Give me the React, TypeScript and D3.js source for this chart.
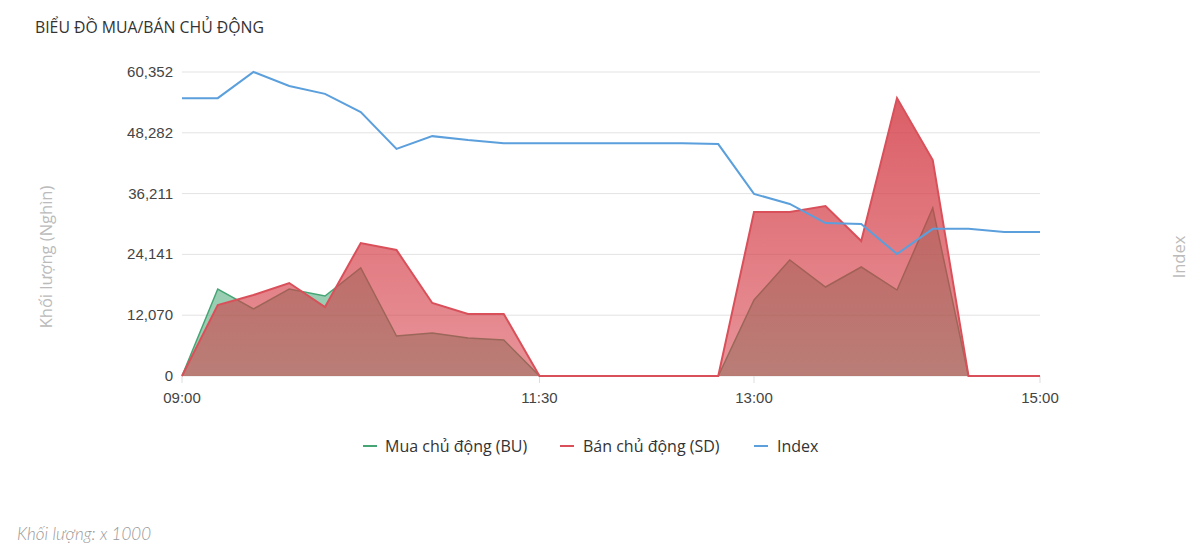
import React from "react";
import * as d3 from "d3";

const times = [
  "09:00", "09:15", "09:30", "09:45", "10:00", "10:15", "10:30", "10:45", "11:00", "11:15",
  "11:30", "11:45", "12:00", "12:15", "12:30", "12:45", "13:00", "13:15", "13:30", "13:45",
  "14:00", "14:15", "14:30", "14:45", "15:00",
];
const buValues = [
  0, 17270, 13300, 17270, 15880, 21440, 7940, 8540, 7540, 7150,
  0, 0, 0, 0, 0, 0, 15090, 23030, 17670, 21640,
  17070, 33350, 0, 0, 0,
];
const sdValues = [
  0, 14090, 16080, 18460, 13700, 26400, 25010, 14490, 12310, 12310,
  0, 0, 0, 0, 0, 0, 32550, 32550, 33750, 26800,
  55180, 42880, 0, 0, 0,
];
const indexValues = [
  1291.4, 1291.4, 1300.0, 1295.4, 1292.8, 1286.8, 1274.7, 1278.9, 1277.6, 1276.6,
  1276.6, 1276.6, 1276.6, 1276.6, 1276.6, 1276.3, 1259.9, 1256.6, 1250.3, 1250.0,
  1240.1, 1248.4, 1248.4, 1247.4, 1247.4,
];
const xTickLabels = ["09:00", "11:30", "13:00", "15:00"];
const yMax = 60352;
const yTickCount = 5;
const indexDomain = [1200, 1300];

const seriesNames = ["Mua chủ động (BU)", "Bán chủ động (SD)", "Index"];
const title = "BIỂU ĐỒ MUA/BÁN CHỦ ĐỘNG";
const yAxisTitle = "Khối lượng (Nghìn)";
const rightAxisTitle = "Index";
const footNote = "Khối lượng: x 1000";

const toMin = (t: string) => {
  const [h, m] = t.split(":").map(Number);
  return h * 60 + m;
};

export default function App() {
  const W = 1200, H = 551;
  const left = 182, right = 1040, top = 72, bottom = 376;
  const axisTitleY = 257;

  const x = d3.scaleLinear().domain([toMin("09:00"), toMin("15:00")]).range([left, right]);
  const y = d3.scaleLinear().domain([0, yMax]).range([bottom, top]);
  const yi = d3.scaleLinear().domain(indexDomain).range([bottom, top]);

  const yTicks = d3.range(yTickCount + 1).map((i) => (yMax * i) / yTickCount);
  const fmt = d3.format(",.0f");

  const pts = times.map((t, i) => ({ t: toMin(t), bu: buValues[i], sd: sdValues[i], idx: indexValues[i] }));

  const areaBU = d3.area<any>().x((d) => x(d.t)).y0(y(0)).y1((d) => y(d.bu));
  const lineBU = d3.line<any>().x((d) => x(d.t)).y((d) => y(d.bu));
  const areaSD = d3.area<any>().x((d) => x(d.t)).y0(y(0)).y1((d) => y(d.sd));
  const lineSD = d3.line<any>().x((d) => x(d.t)).y((d) => y(d.sd));
  const lineIdx = d3.line<any>().x((d) => x(d.t)).y((d) => yi(d.idx));

  const green = "#46a574";
  const red = "#d9505a";
  const blue = "#5b9fdc";

  const legendItems = [
    { name: seriesNames[0], color: green, mx: 363, tx: 385 },
    { name: seriesNames[1], color: red, mx: 560, tx: 583 },
    { name: seriesNames[2], color: blue, mx: 754, tx: 777 },
  ];

  return (
    <svg
      width={W}
      height={H}
      style={{ position: "absolute", left: 0, top: 0, background: "#fff" }}
      fontFamily="'Open Sans', 'Noto Sans', sans-serif"
    >
      <defs>
        <linearGradient id="sdGrad" gradientUnits="userSpaceOnUse" x1="0" y1={top} x2="0" y2={bottom}>
          <stop offset="0" stopColor="#d43c46" stopOpacity={0.85} />
          <stop offset="1" stopColor="#d43c46" stopOpacity={0.55} />
        </linearGradient>
      </defs>

      <text x={35} y={33} fontSize={15.8} fill="#333">{title}</text>

      {yTicks.map((v, i) => (
        <g key={i}>
          <line x1={left} x2={right} y1={y(v)} y2={y(v)} stroke="#e3e3e3" strokeWidth={1} />
          <text x={173} y={y(v) + 5} textAnchor="end" fontSize={15} fontFamily="'Liberation Sans', Arial, sans-serif" fill="#444">
            {fmt(v)}
          </text>
        </g>
      ))}

      {xTickLabels.map((t) => (
        <g key={t}>
          <line x1={x(toMin(t))} x2={x(toMin(t))} y1={bottom} y2={bottom + 7} stroke="#ddd" />
          <text x={x(toMin(t))} y={403} textAnchor="middle" fontSize={15} fontFamily="'Liberation Sans', Arial, sans-serif" fill="#444">
            {t}
          </text>
        </g>
      ))}

      <path d={areaBU(pts) || ""} fill={green} fillOpacity={0.55} />
      <path d={lineBU(pts) || ""} fill="none" stroke={green} strokeWidth={1.5} />
      <path d={areaSD(pts) || ""} fill="url(#sdGrad)" />
      <path d={lineSD(pts) || ""} fill="none" stroke={red} strokeWidth={2} />
      <path d={lineIdx(pts) || ""} fill="none" stroke={blue} strokeWidth={2} />

      <text
        transform={`translate(52, ${axisTitleY}) rotate(-90)`}
        textAnchor="middle"
        fontSize={16.5}
        fill="#bbb"
      >
        {yAxisTitle}
      </text>
      <text
        transform={`translate(1185, ${axisTitleY}) rotate(-90)`}
        textAnchor="middle"
        fontSize={16.5}
        fill="#bbb"
      >
        {rightAxisTitle}
      </text>

      {legendItems.map((it) => (
        <g key={it.name}>
          <line x1={it.mx} x2={it.mx + 14} y1={446} y2={446} stroke={it.color} strokeWidth={2} />
          <text x={it.tx} y={451.5} fontSize={16} fill="#333">{it.name}</text>
        </g>
      ))}

      <text x={17} y={540} fontSize={17} fontStyle="italic" fontWeight={300} fontFamily="Lato, sans-serif" fill="#999">
        {footNote}
      </text>
    </svg>
  );
}
